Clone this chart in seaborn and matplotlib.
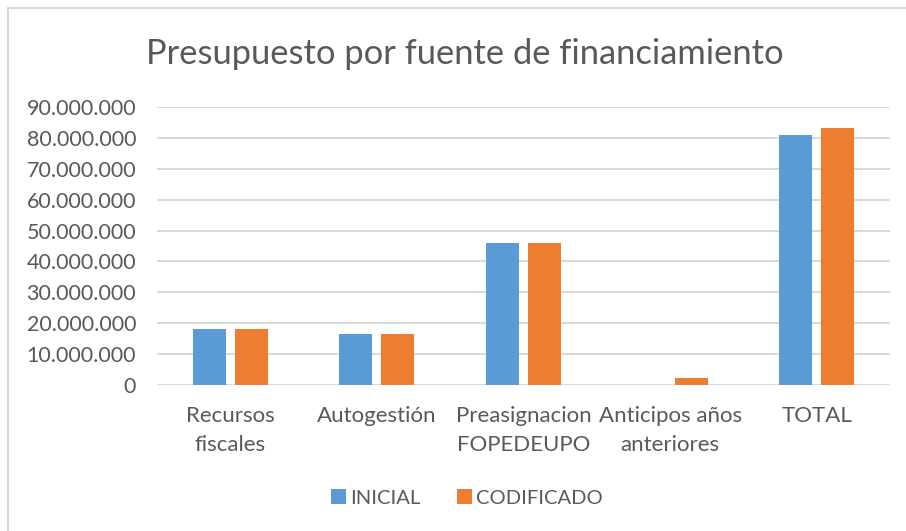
import pandas as pd
import seaborn as sns
import matplotlib.pyplot as plt
from matplotlib.ticker import FuncFormatter, MultipleLocator
from matplotlib.patches import Rectangle

# Data
categorias = ['Recursos\nfiscales', 'Autogestión', 'Preasignacion\nFOPEDEUPO',
              'Anticipos años\nanteriores', 'TOTAL']
inicial = [18_200_000, 16_500_000, 45_900_000, 0, 80_800_000]
codificado = [18_200_000, 16_500_000, 45_900_000, 2_200_000, 83_200_000]
series = ['INICIAL', 'CODIFICADO']

df = pd.DataFrame({
    'categoria': categorias * 2,
    'monto': inicial + codificado,
    'serie': [series[0]] * len(categorias) + [series[1]] * len(categorias),
})

sns.set_theme(style='white')
plt.rcParams['font.family'] = ['Lato', 'DejaVu Sans']
text_color = '#595959'
grid_color = '#D9D9D9'
palette = {'INICIAL': '#5B9BD5', 'CODIFICADO': '#ED7D31'}

W, H = 906, 531
fig = plt.figure(figsize=(W / 100, H / 100), dpi=100)
fig.patch.set_facecolor('white')

# light outer frame (only top/left visible in the screenshot)
fig.patches.append(Rectangle((8 / W, -0.1), 1.2, (H - 8) / H + 0.1,
                             transform=fig.transFigure, fill=False,
                             edgecolor=grid_color, linewidth=1.5))

ax = fig.add_axes([157 / W, 1 - 385 / H, (890 - 157) / W, (385 - 107) / H])
sns.barplot(data=df, x='categoria', y='monto', hue='serie', palette=palette,
            width=0.573, gap=0.214, linewidth=0, saturation=1, ax=ax)

ax.set_ylim(0, 90_000_000)
ax.yaxis.set_major_locator(MultipleLocator(10_000_000))
ax.yaxis.set_major_formatter(FuncFormatter(lambda v, p: f'{int(v):,}'.replace(',', '.')))
ax.grid(axis='y', color=grid_color, linewidth=1.4)
ax.set_axisbelow(True)
for s in ax.spines.values():
    s.set_visible(False)
ax.set_xlabel('')
ax.set_ylabel('')
ax.tick_params(axis='y', length=0, pad=15, labelsize=15.5, labelcolor=text_color)
ax.tick_params(axis='x', length=0, pad=15, labelsize=16, labelcolor=text_color)
for lbl in ax.get_xticklabels():
    lbl.set_linespacing(1.6)

handles, labels = ax.get_legend_handles_labels()
ax.get_legend().remove()
fig.legend(handles, labels, loc='center', bbox_to_anchor=(467 / W, 1 - 498 / H),
           ncol=2, frameon=False, fontsize=14.5, labelcolor=text_color,
           handlelength=0.75, handleheight=0.75, handletextpad=0.2, columnspacing=1.8)

fig.text(465 / W, 1 - 54 / H, 'Presupuesto por fuente de financiamiento',
         ha='center', va='center', fontsize=24.8, color=text_color)

fig.savefig('out.png', dpi=100)
